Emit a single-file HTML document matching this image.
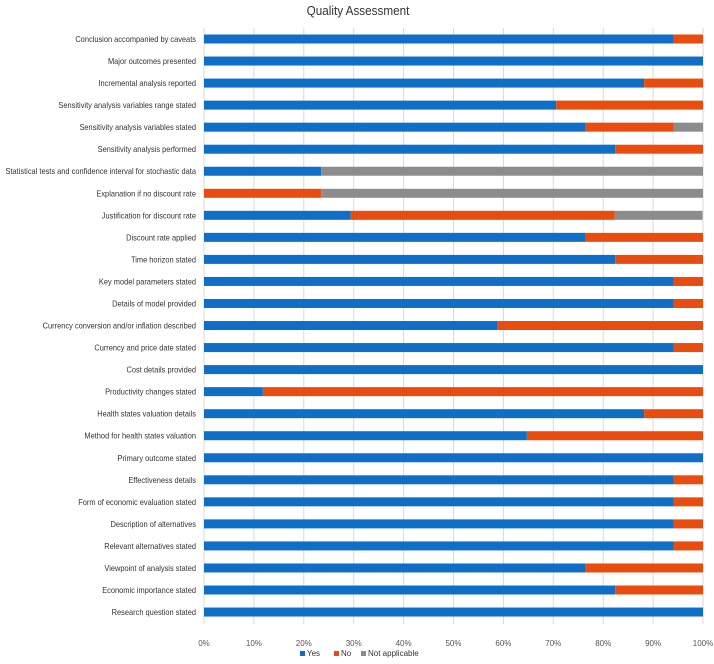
<!DOCTYPE html>
<html><head><meta charset="utf-8"><style>
body{margin:0;background:#fff;}
svg{display:block;font-family:"Liberation Sans Narrow","Liberation Sans",sans-serif;}
</style></head><body>
<svg id="chart" width="714" height="664">
<text x="358" y="15" text-anchor="middle" font-size="13" fill="#333" transform="translate(358,0) scale(0.9,1) translate(-358,0)">Quality Assessment</text>
<g id="grid"></g><g id="bars"></g><g id="labels" transform="translate(196,0) scale(0.93,1) translate(-196,0)"></g><g id="ticks"></g><g id="legend"></g>
</svg>
<script>
const categories=["Conclusion accompanied by caveats","Major outcomes presented","Incremental analysis reported","Sensitivity analysis variables range stated","Sensitivity analysis variables stated","Sensitivity analysis performed","Statistical tests and confidence interval for stochastic data","Explanation if no discount  rate","Justification for discount rate","Discount rate applied","Time horizon stated","Key model parameters stated","Details of model provided","Currency conversion and/or inflation described","Currency and price date stated","Cost details provided","Productivity changes stated","Health states valuation details","Method for health states valuation","Primary outcome stated","Effectiveness details","Form of economic evaluation stated","Description of alternatives","Relevant alternatives stated","Viewpoint of analysis stated","Economic importance stated","Research question stated"];
const yesValues=[94.1,100,88.2,70.6,76.5,82.4,23.5,0,29.4,76.5,82.4,94.1,94.1,58.8,94.1,100,11.8,88.2,64.7,100,94.1,94.1,94.1,94.1,76.5,82.4,100];
const noValues=[5.9,0,11.8,29.4,17.6,17.6,0,23.5,52.9,23.5,17.6,5.9,5.9,41.2,5.9,0,88.2,11.8,35.3,0,5.9,5.9,5.9,5.9,23.5,17.6,0];
const naValues=[0,0,0,0,5.9,0,76.5,76.5,17.6,0,0,0,0,0,0,0,0,0,0,0,0,0,0,0,0,0,0];
const tickLabels=["0%","10%","20%","30%","40%","50%","60%","70%","80%","90%","100%"];
const ticks=[0,10,20,30,40,50,60,70,80,90,100];
const X0=204,X1=703,Y0=39,STEP=22.04,BH=9;
const x=v=>X0+(X1-X0)*v/100;
const y=i=>Y0+i*STEP;
const NS="http://www.w3.org/2000/svg";
function mk(tag,parent,attrs){const e=document.createElementNS(NS,tag);for(const k in attrs)e.setAttribute(k,attrs[k]);parent.appendChild(e);return e;}
const grid=document.getElementById('grid'),bars=document.getElementById('bars'),labels=document.getElementById('labels'),tk=document.getElementById('ticks'),lg=document.getElementById('legend');
ticks.forEach((t,i)=>{
 const l=mk('line',grid,{x1:x(t),x2:x(t),y1:28,y2:624,stroke:'#d9d9d9','stroke-width':1});
 
 
 const tx=mk('text',tk,{x:x(t),y:646,'text-anchor':'middle','font-size':8,fill:'#555'});
 tx.textContent=tickLabels[i];
 
 
});
const series=[[yesValues,'#0F6FC6','bar-yes'],[noValues,'#E84C0F','bar-no'],[naValues,'#8C8C8C','bar-not-applicable']];
categories.forEach((c,i)=>{
 let acc=0;
 series.forEach(([vals,col,nm])=>{
  const v=vals[i];
  if(v>0){const r=mk('rect',bars,{x:x(acc),y:y(i)-BH/2,width:x(acc+v)-x(acc),height:BH,fill:col});
  
  }
  acc+=v;
 });
 const t=mk('text',labels,{x:196,y:y(i)+3,'text-anchor':'end','font-size':8,fill:'#333'});
 t.textContent=c;
 
 
});
const leg=[['Yes','#0F6FC6',300],['No','#E84C0F',334],['Not applicable','#8C8C8C',361]];
leg.forEach(([n,col,lx])=>{
 const r=mk('rect',lg,{x:lx,y:651,width:5,height:5,fill:col});
 
 
 const t=mk('text',lg,{x:lx+7,y:656,'font-size':8,fill:'#333'});
 t.textContent=n;
 
 
});
</script>
</body></html>
